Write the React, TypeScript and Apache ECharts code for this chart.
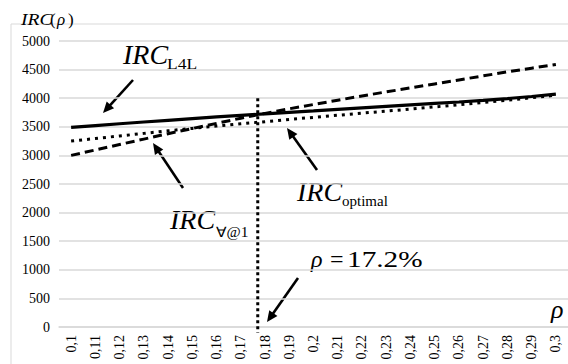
import React, { useEffect, useRef } from "react";
import * as echarts from "echarts";

const categories = ["0,1", "0,11", "0,12", "0,13", "0,14", "0,15", "0,16", "0,17", "0,18", "0,19", "0,2", "0,21", "0,22", "0,23", "0,24", "0,25", "0,26", "0,27", "0,28", "0,29", "0,3"];
const ircL4L = [3490, 3522, 3553, 3584, 3614, 3643, 3672, 3700, 3727, 3753, 3778, 3804, 3830, 3856, 3882, 3908, 3934, 3962, 3994, 4030, 4072];
const ircAll1 = [3000, 3095, 3190, 3285, 3380, 3470, 3560, 3650, 3735, 3815, 3890, 3965, 4040, 4110, 4180, 4250, 4320, 4390, 4460, 4525, 4590];
const ircOptimal = [3250, 3295, 3340, 3385, 3430, 3472, 3512, 3552, 3590, 3628, 3665, 3702, 3738, 3774, 3810, 3848, 3886, 3925, 3965, 4008, 4052];
const yMin = 0;
const yMax = 5000;
const yInterval = 500;
const rhoMarker = 0.177;
const rhoMarkerTop = 4000;
const rhoMarkerBottom = -100;
const rhoMarkerLabel = "17.2%";

const SERIF = "Times New Roman, Liberation Serif, serif";

function arrow(x1: number, y1: number, x2: number, y2: number) {
  const dx = x2 - x1, dy = y2 - y1;
  const len = Math.sqrt(dx * dx + dy * dy);
  const ux = dx / len, uy = dy / len;
  const hl = 11, hw = 5;
  const bx = x2 - ux * hl, by = y2 - uy * hl;
  const px = -uy, py = ux;
  return {
    type: "group",
    children: [
      { type: "line", shape: { x1, y1, x2: bx + ux * 2, y2: by + uy * 2 }, style: { stroke: "#000", lineWidth: 2.6 } },
      { type: "polygon", shape: { points: [[x2, y2], [bx + px * hw, by + py * hw], [bx - px * hw, by - py * hw]] }, style: { fill: "#000" } },
    ],
  };
}

function txt(text: string, x: number, y: number, size: number, italic: boolean, scaleX = 1) {
  return {
    type: "text",
    x,
    y,
    scaleX,
    style: {
      text,
      fontFamily: SERIF,
      fontSize: size,
      fontStyle: italic ? "italic" : "normal",
      fill: "#000",
      align: "left",
      verticalAlign: "middle",
    },
  };
}

export default function App() {
  const ref = useRef<HTMLDivElement>(null);
  useEffect(() => {
    if (!ref.current) return;
    const chart = echarts.init(ref.current, null, { renderer: "svg" });
    const option: any = {
      animation: false,
      backgroundColor: "#fff",
      grid: { left: 59, right: 0, top: 41, bottom: 37 },
      xAxis: [
        {
          type: "category",
          data: categories,
          boundaryGap: true,
          axisTick: { show: false },
          axisLine: { lineStyle: { color: "#d9d9d9", width: 1.5 } },
          axisLabel: { rotate: 90, interval: 0, margin: 8, fontFamily: SERIF, fontSize: 14, color: "#000" },
        },
        { type: "value", min: 0.095, max: 0.305, show: false },
      ],
      yAxis: {
        type: "value",
        min: yMin,
        max: yMax,
        interval: yInterval,
        axisLine: { show: false },
        axisTick: { show: false },
        splitLine: { lineStyle: { color: "#d9d9d9", width: 1.5 } },
        axisLabel: { margin: 9, fontFamily: SERIF, fontSize: 14, color: "#000", formatter: (v: number) => String(v) },
      },
      series: [
        { type: "line", data: ircL4L, symbol: "none", silent: true, lineStyle: { color: "#000", width: 3.2 } },
        { type: "line", data: ircAll1, symbol: "none", silent: true, lineStyle: { color: "#000", width: 3, type: [9, 5] } },
        { type: "line", data: ircOptimal, symbol: "none", silent: true, lineStyle: { color: "#000", width: 3, type: [3, 5] } },
        {
          type: "line",
          xAxisIndex: 1,
          data: [[rhoMarker, rhoMarkerTop], [rhoMarker, rhoMarkerBottom]],
          symbol: "none",
          silent: true,
          clip: false,
          z: 3,
          lineStyle: { color: "#000", width: 3, type: [3, 3] },
        },
      ],
      graphic: [
        { type: "rect", z: -1, shape: { x: 11, y: 24, width: 620, height: 400 }, style: { fill: "none", stroke: "#d9d9d9", lineWidth: 1 } },
        txt("IRC", 21, 19, 17, true, 1.15),
        txt("(", 50, 19, 17, false),
        txt("ρ", 57, 19, 17, true),
        txt(")", 68, 19, 17, false),
        txt("IRC", 123, 54, 28, true),
        txt("L4L", 167, 64, 14, false, 1.25),
        txt("IRC", 170, 219, 28, true),
        txt("∀@1", 216, 232, 14, false, 1.1),
        txt("IRC", 297, 191, 28, true),
        txt("optimal", 342, 201, 15, false),
        txt("ρ", 311, 259, 24, true),
        txt("=", 330, 259, 24, false),
        txt(rhoMarkerLabel, 347, 259, 24, false, 1.22),
        txt("ρ", 551, 309, 26, true),
        arrow(133, 80, 103, 113),
        arrow(183, 188, 153, 143),
        arrow(317, 170, 287, 128),
        arrow(298, 278, 267, 322),
      ],
    };
    chart.setOption(option);
    return () => chart.dispose();
  }, []);
  return <div ref={ref} style={{ position: "absolute", left: 0, top: 0, width: 568, height: 364 }} />;
}
